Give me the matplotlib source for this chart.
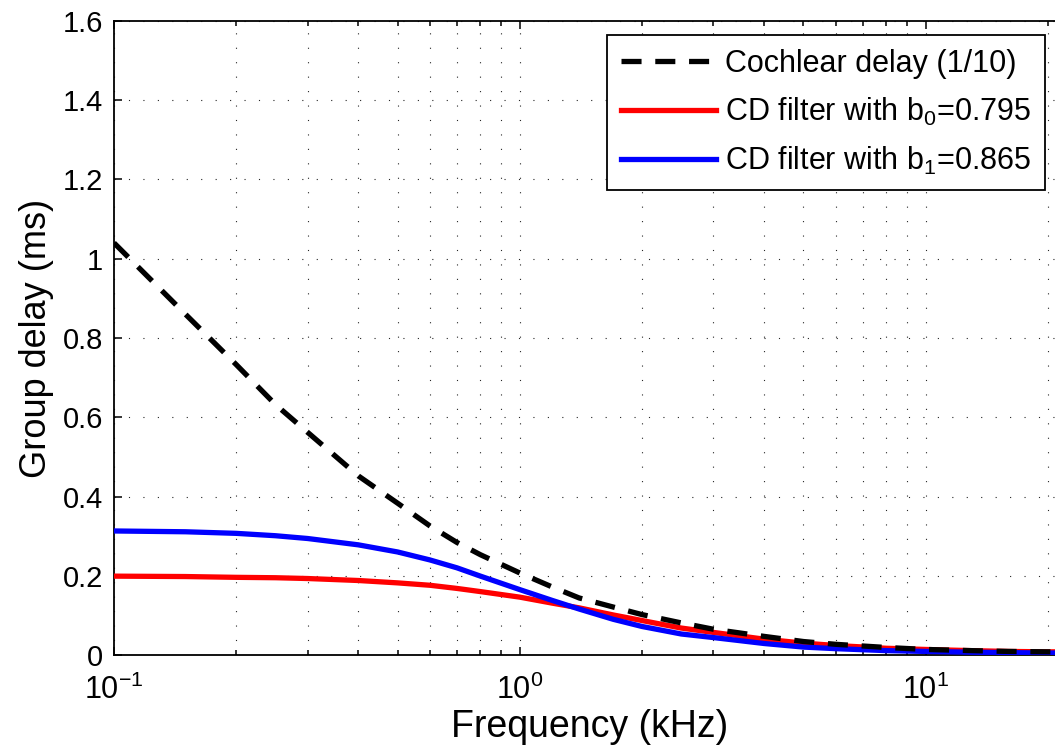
import numpy as np
import matplotlib
matplotlib.use("Agg")
import matplotlib.pyplot as plt
from matplotlib.ticker import LogLocator, FormatStrFormatter, NullFormatter

plt.rcParams['font.family'] = ['Liberation Sans', 'DejaVu Sans']
plt.rcParams['mathtext.fontset'] = 'custom'
plt.rcParams['mathtext.rm'] = 'Liberation Sans'
plt.rcParams['mathtext.it'] = 'Liberation Sans:italic'
plt.rcParams['mathtext.bf'] = 'Liberation Sans:bold'

# frequency axis (kHz)
freq = [0.1, 0.15, 0.2, 0.25, 0.3, 0.4, 0.5, 0.6, 0.7, 0.8, 1.0, 1.2, 1.4,
        1.7, 2.0, 2.5, 3.0, 4.0, 5.0, 6.0, 8.0, 10, 13, 16, 20, 22.05]

# group delay (ms)
cochlear = [1.04, 0.86, 0.733, 0.632, 0.562, 0.452, 0.383, 0.326, 0.284, 0.253,
            0.207, 0.172, 0.144, 0.121, 0.102, 0.081, 0.065, 0.047, 0.034, 0.027,
            0.019, 0.014, 0.011, 0.009, 0.008, 0.0075]
cd_b0 = [0.199, 0.198, 0.196, 0.195, 0.193, 0.188, 0.182, 0.176, 0.168, 0.160,
         0.146, 0.131, 0.119, 0.101, 0.087, 0.068, 0.057, 0.040, 0.030, 0.024,
         0.017, 0.014, 0.011, 0.009, 0.008, 0.008]
cd_b1 = [0.313, 0.311, 0.307, 0.301, 0.294, 0.278, 0.260, 0.240, 0.220, 0.199,
         0.165, 0.138, 0.116, 0.090, 0.072, 0.053, 0.044, 0.029, 0.020, 0.016,
         0.011, 0.009, 0.007, 0.006, 0.005, 0.005]

labels = ['Cochlear delay (1/10)',
          'CD filter with b$_0$=0.795',
          'CD filter with b$_1$=0.865']

fig = plt.figure(figsize=(10.55, 7.49), dpi=100)
ax = fig.add_axes([114 / 1055, 94 / 749, 951 / 1055, 634 / 749])

l_red, = ax.semilogx(freq, cd_b0, color='#ff0000', lw=3.8, zorder=3)
l_blue, = ax.semilogx(freq, cd_b1, color='#0000ff', lw=3.8, zorder=4)
l_cd, = ax.semilogx(freq, cochlear, color='k', lw=3.8, dashes=(3.8, 2.6), zorder=5)

ax.set_xlim(0.1, 22.05)
ax.set_ylim(0, 1.6)
ax.set_yticks(np.arange(0, 1.61, 0.2))
ax.yaxis.set_major_formatter(FormatStrFormatter('%g'))
ax.xaxis.set_major_locator(LogLocator(base=10, numticks=10))
ax.xaxis.set_minor_locator(LogLocator(base=10, subs=np.arange(2, 10), numticks=20))
ax.xaxis.set_minor_formatter(NullFormatter())

ax.grid(True, which='major', axis='both', color='0.15', linestyle=(0, (1, 12)), lw=0.8)
ax.grid(True, which='minor', axis='x', color='0.15', linestyle=(0, (1, 12)), lw=0.8)

ax.tick_params(which='both', direction='in', top=True, right=True, labelsize=21, width=1.1)
ax.tick_params(which='major', length=6, pad=8)
ax.tick_params(which='minor', length=3.5)
ax.tick_params(axis='x', which='major', labelsize=22, pad=14)
for s in ax.spines.values():
    s.set_linewidth(1.3)

ax.set_xlabel('Frequency (kHz)', fontsize=27, labelpad=2)
ax.set_ylabel('Group delay (ms)', fontsize=26, labelpad=6)

leg = ax.legend([l_cd, l_red, l_blue], labels, loc='upper right',
                bbox_to_anchor=(1045 / 1055, 1 - 35 / 749), bbox_transform=fig.transFigure,
                fontsize=22, handlelength=3.1, handletextpad=0.3, borderpad=0.45,
                labelspacing=0.55, borderaxespad=0, fancybox=False, framealpha=1)
leg.get_frame().set_edgecolor('k')
leg.get_frame().set_linewidth(1.3)

fig.savefig('out.png', dpi=100)
